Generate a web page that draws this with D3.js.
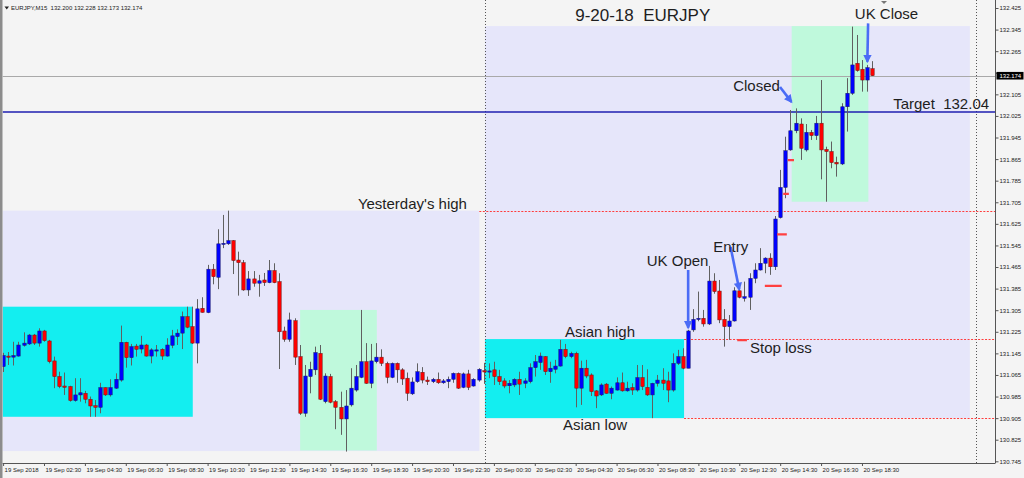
<!DOCTYPE html>
<html><head><meta charset="utf-8">
<script src="https://cdn.jsdelivr.net/npm/d3@7"></script>
<style>html,body{margin:0;padding:0;background:#f4f4f4;}svg{display:block;}text{white-space:pre;}</style>
</head><body>
<svg id="c" width="1024" height="478"></svg>
<script>
// ---------- DATA (EURJPY M15, 19 Sep 00:30 -> 20 Sep 19:00) ----------
const symbolInfo = "EURJPY,M15  132.200 132.228 132.173 132.174";
const open = [131.096,131.135,131.131,131.135,131.175,131.180,131.213,131.183,131.228,131.191,
131.117,131.059,131.024,131.022,130.970,130.991,130.997,130.975,130.951,130.945,
131.018,130.991,131.016,131.046,131.186,131.129,131.172,131.161,131.176,131.135,
131.154,131.160,131.135,131.175,131.207,131.220,131.281,131.244,131.183,131.312,
131.296,131.457,131.427,131.550,131.551,131.563,131.491,131.481,131.380,131.421,
131.405,131.417,131.407,131.452,131.411,131.228,131.197,131.266,131.133,130.923,
131.059,131.084,131.145,130.966,131.059,130.966,130.945,130.902,130.954,131.009,
131.056,131.114,131.034,131.114,131.131,131.108,131.056,131.108,131.084,131.053,
130.995,131.040,131.075,131.046,131.040,131.049,131.036,131.040,131.049,131.071,
131.019,131.069,131.024,131.046,131.081,131.076,131.084,131.059,131.043,131.025,
131.028,131.049,131.034,131.040,131.092,131.111,131.133,131.077,131.086,131.098,
131.160,131.133,131.145,131.016,131.090,131.065,131.006,130.991,131.031,130.997,
131.009,131.036,131.006,131.018,131.009,131.055,131.019,130.991,131.034,131.046,
131.043,131.009,131.108,131.133,131.090,131.232,131.271,131.275,131.254,131.413,
131.376,131.271,131.244,131.265,131.377,131.349,131.353,131.423,131.454,131.479,
131.498,131.466,131.648,131.760,131.899,131.970,131.995,131.899,131.964,131.952,
131.998,131.901,131.893,131.853,131.847,132.059,132.109,132.220,132.198,132.158,
132.200];
const high = [131.147,131.150,131.188,131.188,131.223,131.217,131.217,131.238,131.232,131.195,
131.133,131.077,131.074,131.025,131.053,131.053,131.006,130.985,130.972,131.036,
131.019,131.049,131.071,131.248,131.188,131.180,131.180,131.210,131.180,131.164,
131.176,131.164,131.201,131.232,131.234,131.300,131.318,131.318,131.346,131.353,
131.473,131.476,131.605,131.658,131.674,131.565,131.522,131.491,131.450,131.450,
131.436,131.443,131.491,131.479,131.442,131.244,131.296,131.275,131.176,131.102,
131.114,131.170,131.176,131.071,131.069,130.972,131.003,131.009,131.090,131.102,
131.306,131.183,131.180,131.183,131.160,131.114,131.111,131.111,131.090,131.074,
131.056,131.108,131.094,131.059,131.054,131.074,131.050,131.059,131.074,131.074,
131.074,131.084,131.053,131.090,131.110,131.108,131.114,131.084,131.053,131.046,
131.053,131.077,131.053,131.108,131.139,131.148,131.135,131.114,131.121,131.195,
131.180,131.151,131.151,131.118,131.121,131.071,131.009,131.034,131.035,131.022,
131.056,131.074,131.040,131.034,131.102,131.102,131.086,131.036,131.065,131.090,
131.077,131.145,131.158,131.164,131.232,131.309,131.374,131.306,131.469,131.442,
131.417,131.309,131.287,131.390,131.392,131.411,131.442,131.479,131.535,131.501,
131.516,131.654,131.825,131.948,132.047,132.053,132.016,131.995,131.973,132.025,
132.158,131.911,131.930,131.874,132.072,132.165,132.356,132.325,132.232,132.214,
132.228];
const low = [131.076,131.102,131.100,131.133,131.170,131.176,131.176,131.170,131.188,131.108,
131.016,131.016,130.991,130.966,130.966,130.966,130.960,130.910,130.910,130.923,
130.987,130.985,131.013,131.040,131.092,131.100,131.133,131.145,131.133,131.108,
131.133,131.121,131.133,131.164,131.176,131.161,131.238,131.180,131.108,131.296,
131.294,131.401,131.383,131.535,131.547,131.439,131.359,131.377,131.358,131.392,
131.355,131.395,131.405,131.405,131.087,131.188,131.188,131.102,130.917,130.910,
130.997,131.065,130.972,130.960,130.960,130.864,130.843,130.781,130.948,131.003,
131.053,131.032,131.016,131.108,131.098,131.034,131.053,131.036,131.028,130.969,
130.991,131.036,131.034,131.028,131.035,131.032,131.032,131.016,131.036,131.013,
131.016,131.009,131.022,131.040,131.032,131.053,131.028,131.028,131.016,130.997,
131.020,130.991,131.016,131.034,131.059,131.084,131.065,131.036,131.071,131.096,
131.127,131.127,130.945,130.954,131.053,130.987,130.942,130.987,130.995,130.975,
131.007,131.003,131.003,130.991,131.003,131.009,130.987,130.905,131.022,131.009,
130.964,131.003,131.102,131.086,131.090,131.225,131.264,131.244,131.250,131.366,
131.257,131.170,131.195,131.263,131.349,131.337,131.306,131.405,131.452,131.442,
131.436,131.454,131.645,131.720,131.896,131.961,131.862,131.893,131.936,131.936,
131.790,131.707,131.831,131.800,131.843,131.967,132.103,132.189,132.115,132.115,
132.173];
const close = [131.137,131.132,131.137,131.176,131.183,131.213,131.183,131.228,131.192,131.114,
131.059,131.022,131.019,130.970,130.991,130.999,130.975,130.950,130.945,131.018,
130.991,131.018,131.049,131.186,131.129,131.170,131.160,131.176,131.135,131.158,
131.158,131.135,131.176,131.210,131.220,131.281,131.242,131.183,131.310,131.297,
131.457,131.429,131.551,131.553,131.563,131.489,131.481,131.380,131.421,131.405,
131.414,131.407,131.452,131.407,131.225,131.197,131.269,131.131,130.923,131.061,
131.086,131.148,130.975,131.061,130.964,130.945,130.902,130.950,131.016,131.059,
131.114,131.034,131.117,131.131,131.108,131.056,131.108,131.084,131.050,130.997,
131.039,131.077,131.046,131.040,131.049,131.036,131.043,131.049,131.071,131.016,
131.069,131.019,131.049,131.086,131.076,131.080,131.059,131.040,131.024,131.034,
131.049,131.031,131.043,131.092,131.114,131.135,131.077,131.090,131.098,131.160,
131.133,131.145,131.016,131.090,131.061,131.003,130.987,131.028,130.997,131.016,
131.036,131.006,131.016,131.009,131.055,131.022,130.991,131.034,131.046,131.034,
131.009,131.108,131.133,131.090,131.228,131.271,131.275,131.254,131.413,131.374,
131.269,131.244,131.265,131.377,131.353,131.355,131.423,131.454,131.479,131.498,
131.466,131.643,131.760,131.896,131.970,131.998,131.905,131.964,131.952,131.998,
131.899,131.893,131.852,131.847,132.059,132.109,132.214,132.193,132.158,132.204,
132.174];

const xTickIndex = [0,8,16,24,32,40,48,56,64,72,80,88,96,104,112,120,128,136,144,152,160,168];
const xTickLabels = ["19 Sep 2018","19 Sep 02:30","19 Sep 04:30","19 Sep 06:30","19 Sep 08:30","19 Sep 10:30",
"19 Sep 12:30","19 Sep 14:30","19 Sep 16:30","19 Sep 18:30","19 Sep 20:30","19 Sep 22:30","20 Sep 00:30",
"20 Sep 02:30","20 Sep 04:30","20 Sep 06:30","20 Sep 08:30","20 Sep 10:30","20 Sep 12:30","20 Sep 14:30",
"20 Sep 16:30","20 Sep 18:30"];
const yTicks = [132.425,132.345,132.265,132.185,132.105,132.025,131.945,131.865,131.785,131.705,131.625,
131.545,131.465,131.385,131.305,131.225,131.145,131.065,130.985,130.905,130.825,130.745];

// zones (time in bar index, prices)
const zoneKind  = ["day","day","asia","asia","uk","uk"];
const zoneStart = [-0.1, 94.25, -0.1, 94.25, 58.1, 154.25];
const zoneEnd   = [93.15, 189.1, 37.1, 133.2, 73.1, 169.25];
const zoneHigh  = [131.674, 132.358, 131.318, 131.198, 131.306, 132.358];
const zoneLow   = [130.783, 130.905, 130.910, 130.905, 130.785, 131.707];

const levelPrice = [131.674, 131.198, 130.905];   // yesterday's high, Asian high, Asian low
const levelStart = [93.15, 133.2, 133.2];
const targetPrice = 132.04;
const lastPrice = 132.174;
const separators = [94.25, 190.25];

const stopStart = [143.6, 149.0, 151.4, 152.6, 153.5];
const stopEnd   = [145.5, 152.3, 153.3, 153.7, 154.7];
const stopPrice = [131.194, 131.395, 131.586, 131.736, 131.861];

const arrowFromI = [134.0, 142.3, 151.97, 169.2];
const arrowFromP = [131.454, 131.539, 132.132, 132.368];
const arrowToI   = [134.0, 143.99, 154.2, 169.05];
const arrowToP   = [131.240, 131.382, 132.077, 132.226];

const labelText = ["9-20-18  EURJPY","UK Close","Closed","Target  132.04","Yesterday's high","Entry","UK Open","Asian high","Stop loss","Asian low"];
const labelI = [111.9, 166.6, 142.8, 174.1, 69.4, 138.9, 125.9, 109.9, 146.1, 109.5];
const labelP = [132.377, 132.384, 132.1175, 132.051, 131.680, 131.519, 131.469, 131.206, 131.147, 130.861];

// ---------- CHART ----------
const svg = d3.select("#c");
const plotL = 2.5, plotR = 995.5, plotT = 0, plotB = 463;
const x = d3.scaleLinear().domain([0,170]).range([3.1, 872.2]);
const y = d3.scaleLinear().domain([130.745,132.425]).range([461.3, 8]);

svg.append("rect").attr("width",1024).attr("height",478).attr("fill","#f4f4f4");
const defs = svg.append("defs");
defs.append("clipPath").attr("id","plot").append("rect")
  .attr("x",plotL).attr("y",plotT).attr("width",plotR-plotL).attr("height",plotB-plotT);
defs.append("marker").attr("id","ah").attr("viewBox","0 0 10 10").attr("refX",8).attr("refY",5)
  .attr("markerWidth",3.6).attr("markerHeight",3.2).attr("orient","auto")
  .append("path").attr("d","M0,0 L10,5 L0,10 z").attr("fill","#4b6cf6");

const g = svg.append("g").attr("clip-path","url(#plot)");
const zoneColor = {day:"#e6e6fa", asia:"#13eef0", uk:"#bff9dc"};
g.selectAll("rect.zone").data(zoneKind).join("rect").attr("class","zone")
  .attr("x",(d,i)=>x(zoneStart[i])).attr("width",(d,i)=>x(zoneEnd[i])-x(zoneStart[i]))
  .attr("y",(d,i)=>y(zoneHigh[i])).attr("height",(d,i)=>y(zoneLow[i])-y(zoneHigh[i]))
  .attr("fill",d=>zoneColor[d]);

// separators
g.selectAll("line.sep").data(separators).join("line").attr("class","sep")
  .attr("x1",d=>Math.round(x(d))+0.5).attr("x2",d=>Math.round(x(d))+0.5)
  .attr("y1",plotT).attr("y2",plotB).attr("stroke","#555").attr("stroke-dasharray","1,2");

// levels
g.selectAll("line.lvl").data(levelPrice).join("line").attr("class","lvl")
  .attr("x1",(d,i)=>x(levelStart[i])).attr("x2",plotR)
  .attr("y1",d=>Math.round(y(d))+0.5).attr("y2",d=>Math.round(y(d))+0.5)
  .attr("stroke","#ff3c3c").attr("stroke-dasharray","2,1.5");
g.append("line").attr("x1",plotL).attr("x2",plotR)
  .attr("y1",Math.round(y(lastPrice))+0.5).attr("y2",Math.round(y(lastPrice))+0.5)
  .attr("stroke","#a9a9a9");
g.append("line").attr("x1",plotL).attr("x2",plotR)
  .attr("y1",y(targetPrice)).attr("y2",y(targetPrice))
  .attr("stroke","#1f1fb0").attr("stroke-width",1.5);

// candles
const idx = d3.range(open.length);
const cg = g.append("g");
cg.selectAll("line.wick").data(idx).join("line").attr("class","wick")
  .attr("x1",i=>Math.round(x(i))+0.5).attr("x2",i=>Math.round(x(i))+0.5)
  .attr("y1",i=>y(high[i])).attr("y2",i=>y(low[i]))
  .attr("stroke","#606060").attr("stroke-width",1);
cg.selectAll("rect.body").data(idx).join("rect").attr("class","body")
  .attr("x",i=>Math.round(x(i))-1.2).attr("width",3.4)
  .attr("y",i=>y(Math.max(open[i],close[i])))
  .attr("height",i=>Math.max(1.2, Math.abs(y(open[i])-y(close[i]))))
  .attr("fill",i=>close[i]>=open[i]?"#0000ff":"#ff0000")
  .attr("stroke",i=>close[i]>=open[i]?"#1a1a66":"#661a1a").attr("stroke-width",0.5);

// stop markers
g.selectAll("line.stop").data(stopPrice).join("line").attr("class","stop")
  .attr("x1",(d,i)=>x(stopStart[i])).attr("x2",(d,i)=>x(stopEnd[i]))
  .attr("y1",d=>y(d)).attr("y2",d=>y(d)).attr("stroke","#ff4040").attr("stroke-width",2.2);

// arrows
g.selectAll("line.arr").data(arrowFromI).join("line").attr("class","arr")
  .attr("x1",(d,i)=>x(arrowFromI[i])).attr("y1",(d,i)=>y(arrowFromP[i]))
  .attr("x2",(d,i)=>x(arrowToI[i])).attr("y2",(d,i)=>y(arrowToP[i]))
  .attr("stroke","#4b6cf6").attr("stroke-width",2.6).attr("marker-end","url(#ah)");

// labels
g.selectAll("text.lab").data(labelText).join("text").attr("class","lab")
  .attr("x",(d,i)=>x(labelI[i])).attr("y",(d,i)=>y(labelP[i]))
  .attr("font-family","Liberation Sans, Arial, sans-serif")
  .attr("font-size",(d,i)=>i===0?17:15).attr("fill","#1e1e1e").text(d=>d);

// axes
const ax = svg.append("g").attr("transform",`translate(0,${plotB})`)
  .call(d3.axisBottom(x).tickValues(xTickIndex).tickFormat((d,i)=>xTickLabels[i]).tickSize(3).tickSizeOuter(0));
ax.select(".domain").attr("d",`M${plotL},0.5H${plotR}`).attr("stroke","#555");
ax.selectAll(".tick line").attr("stroke","#555");
ax.selectAll(".tick text").attr("text-anchor","start").attr("x",1).attr("y",4.5)
  .attr("font-family","Liberation Sans, Arial, sans-serif").attr("font-size",6).attr("fill","#222");

// the label hidden behind the current-price box is left blank
const fmt = d3.format(".3f");
const ay = svg.append("g").attr("transform",`translate(${plotR},0)`)
  .call(d3.axisRight(y).tickValues(yTicks)
    .tickFormat(d => Math.abs(y(d)-y(lastPrice))<6 ? "" : fmt(d)).tickSize(3).tickSizeOuter(0));
ay.select(".domain").attr("d",`M0,${plotT}V${plotB}`).attr("stroke","#555");
ay.selectAll(".tick line").attr("stroke","#555");
ay.selectAll(".tick text").attr("x",4).attr("font-family","Liberation Sans, Arial, sans-serif")
  .attr("font-size",6).attr("fill","#222");

// current price box
const lp = svg.append("g").attr("transform",`translate(${plotR+1},${y(lastPrice)})`);
lp.append("rect").attr("x",0).attr("y",-3.8).attr("width",27).attr("height",7.6).attr("fill","#000");
lp.append("text").attr("x",3).attr("y",2.2).attr("font-family","Liberation Sans, Arial, sans-serif")
  .attr("font-size",6).attr("fill","#fff").text(fmt(lastPrice));

// left border and header
svg.append("rect").attr("x",0).attr("y",0).attr("width",2.5).attr("height",478).attr("fill","#8c8c8c");
svg.append("path").attr("d","M4.5,6.5 L9,6.5 L6.75,9.5 Z").attr("fill","#222");
svg.append("text").attr("x",11).attr("y",10).attr("font-family","Liberation Sans, Arial, sans-serif")
  .attr("font-size",6).attr("fill","#222").text(symbolInfo);
svg.append("path").attr("d","M881,1 L887,1 L884,4 Z").attr("fill","#777");
</script>
</body></html>
